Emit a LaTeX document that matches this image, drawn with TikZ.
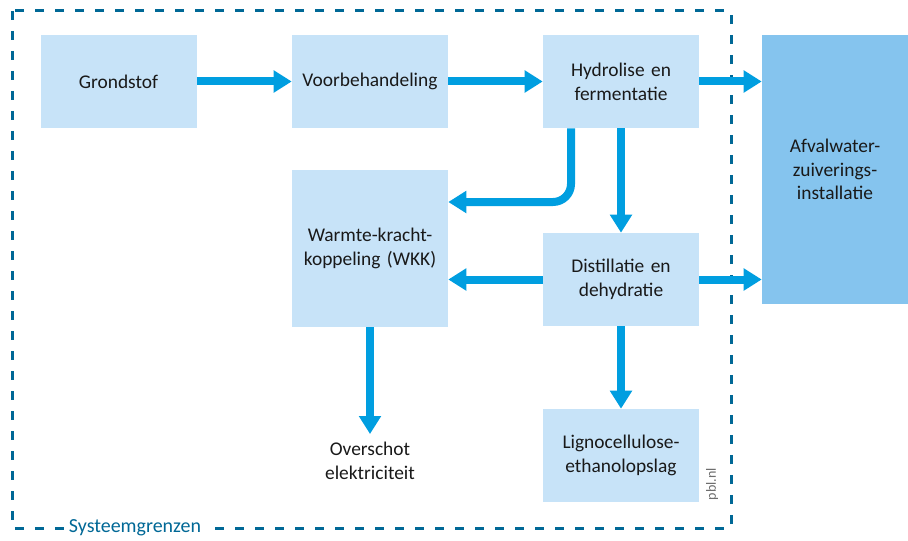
\documentclass[tikz,border=0pt]{standalone}
\usepackage{fontspec}
\setmainfont{Carlito}
\usetikzlibrary{arrows.meta,positioning}
\definecolor{pblbox}{RGB}{199,227,248}
\definecolor{pblboxdark}{RGB}{133,196,238}
\definecolor{pblarrow}{RGB}{0,158,224}
\definecolor{pblborder}{RGB}{0,104,150}
\definecolor{pbltext}{RGB}{25,25,25}
\definecolor{pblgray}{RGB}{110,110,110}

\begin{document}
\begin{tikzpicture}[
  procnode/.style={fill=pblbox, text=pbltext, text width=3.7cm, align=center, minimum width=3.9cm, minimum height=2.325cm, inner sep=0pt, font=\fontsize{13.8}{16.9}\selectfont},
  flow/.style={draw=pblarrow, line width=0.2cm, -{Triangle[length=0.45cm, width=0.53cm]}}]
\useasboundingbox (0,0) rectangle (22.7,13.5);
% System boundary
\draw[pblborder, line width=0.075cm, dash pattern=on 0.225cm off 0.275cm] (0.3,13.225) rectangle (18.275,0.3);
\node[fill=white, text=pblborder, font=\fontsize{14.2}{16.9}\selectfont, inner xsep=3pt, inner ysep=1pt] (grens) at (3.375,0.3) {Systeemgrenzen};
% Steps
\node[procnode] (grond) at (2.9625,11.4625) {Grondstof};
\node[procnode] (voor) at (9.25,11.4625) {Voorbehandeling};
\node[procnode] (hydro) at (15.525,11.4625) {Hydrolise en\\fermentatie};
\node[procnode, minimum height=3.925cm] (wkk) at (9.25,7.2875) {Warmte-kracht-\\koppeling (WKK)};
\node[procnode] (distil) at (15.525,6.5125) {Distillatie en\\dehydratie};
\node[procnode] (ligno) at (15.525,2.1125) {Lignocellulose-\\ethanolopslag};
\node[procnode, fill=pblboxdark, text width=3.4cm, minimum width=3.65cm, minimum height=6.725cm] (afval) at (20.875,9.2625) {Afvalwater-\\zuiverings-\\installatie};
\node[text=pbltext, align=center, inner sep=0.2cm, font=\fontsize{13.8}{16.9}\selectfont] (over) at (9.25,1.975) {Overschot\\elektriciteit};
\node[text=pblgray, rotate=90, inner sep=0pt, font=\fontsize{10}{12}\selectfont] (pbl) at (17.8,1.4) {pbl.nl};
% Arrows
\draw[flow] (grond) -- (voor);
\draw[flow] (voor) -- (hydro);
\draw[flow] (hydro.east) -- (hydro.east -| afval.west);
\draw[flow] (hydro) -- (distil);
\draw[flow, rounded corners=0.45cm] ([xshift=-1.25cm]hydro.south) |- ([yshift=1.1625cm]wkk.east);
\draw[flow] (distil.west) -- (distil.west -| wkk.east);
\draw[flow] (distil.east) -- (distil.east -| afval.west);
\draw[flow] (distil) -- (ligno);
\draw[flow] (wkk) -- (over);
\end{tikzpicture}
\end{document}
